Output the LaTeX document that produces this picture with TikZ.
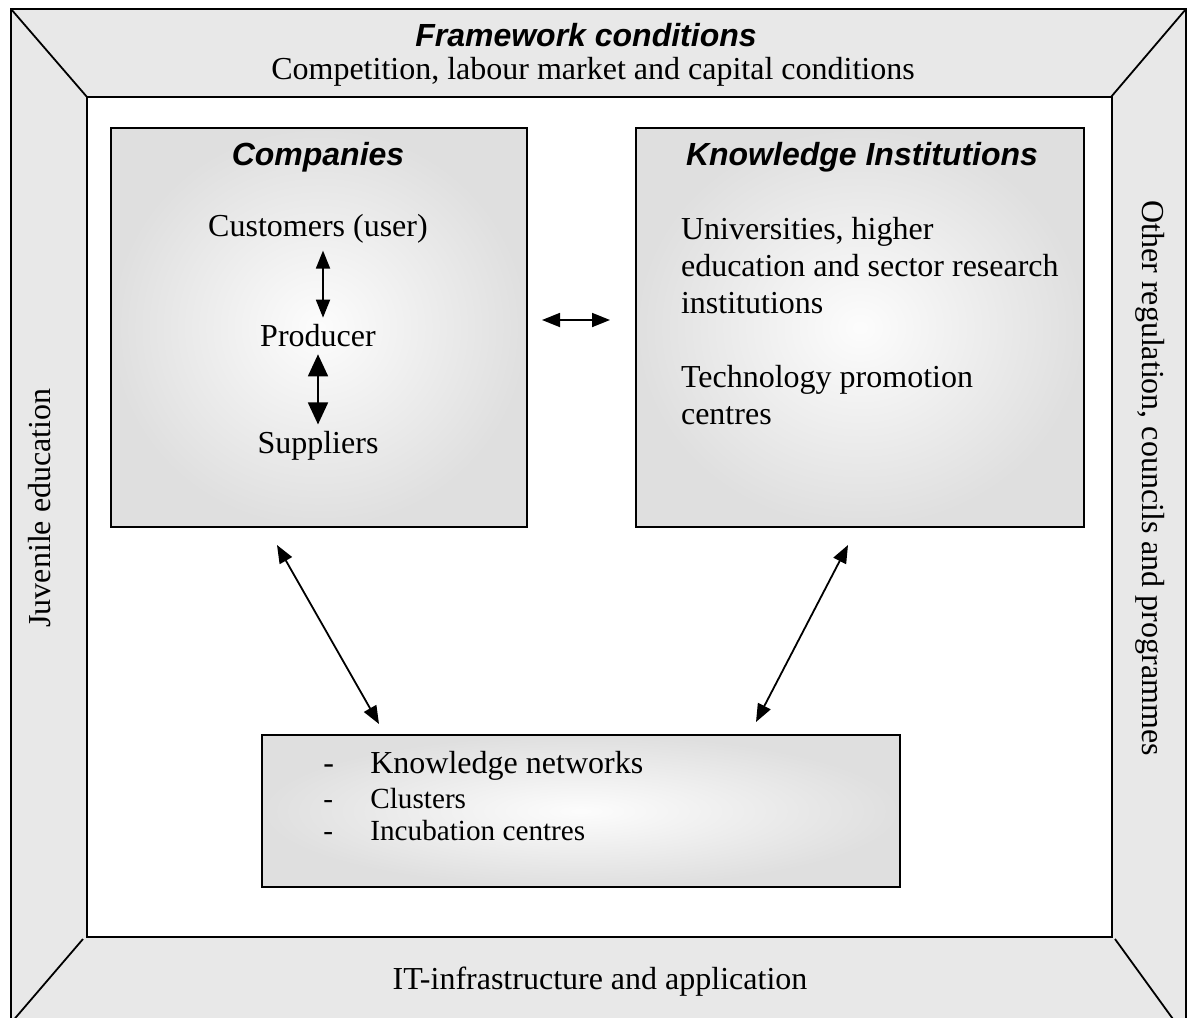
\documentclass[tikz,border=0pt]{standalone}
\usepackage{fontspec}
\setmainfont{Liberation Serif}
\newfontfamily\headfont{Liberation Sans}
\usetikzlibrary{arrows.meta}
\tikzset{
  panel/.style={draw,line width=1pt,inner color=gray!2,outer color=gray!25,anchor=north west},
  head/.style={font=\headfont\bfseries\itshape\fontsize{16}{19}\selectfont},
  body/.style={font=\fontsize{16}{18.5}\selectfont},
  small/.style={font=\fontsize{14.6}{17}\selectfont},
  link/.style={line width=0.9pt,{Triangle[width=7pt,length=9pt]}-{Triangle[width=7pt,length=9pt]}},
  biglink/.style={line width=0.9pt,{Triangle[width=10pt,length=11pt]}-{Triangle[width=10pt,length=11pt]}},
}
\begin{document}
\begin{tikzpicture}[x=0.5pt,y=-0.5pt]
  \useasboundingbox (0,0) rectangle (1188,1017);
  \clip (0,0) rectangle (1188,1017);
  % outer frame
  \fill[gray!18] (11,9) rectangle (1186,1045);
  \draw[line width=0.9pt] (11,1045) -- (11,9) -- (1186,9) -- (1186,1045);
  \draw[line width=0.9pt] (11,9) -- (87,97) (1186,9) -- (1111,97)
    (83,939) -- (11,1023) (1115,939) -- (1186,1037);
  \draw[fill=white,line width=1pt] (87,97) rectangle (1112,937);
  \node[head] (frame) at (586,35) {Framework conditions};
  \node[body] (comp0) at (593,72) {Competition, labour market and capital conditions};
  \node[body,rotate=90] (juv) at (40,508) {Juvenile education};
  \node[body,rotate=-90] (reg) at (1150,478) {Other regulation, councils and programmes};
  \node[body] (infra) at (600,982) {IT-infrastructure and application};

  % boxes
  \node[panel,minimum width=208pt,minimum height=199.5pt] (comp) at (110,127) {};
  \node[panel,minimum width=224pt,minimum height=199.5pt] (kno) at (635,127) {};
  \node[panel,minimum width=319pt,minimum height=76pt] (net) at (261,734) {};

  % companies
  \node[head] (comptitle) at (318,157) {Companies};
  \node[body] (cust) at (318,229) {Customers (user)};
  \node[body] (prod) at (318,336) {Producer};
  \node[body] (supp) at (318,446) {Suppliers};
  \draw[link] ([xshift=2.5pt]cust.south) -- ([xshift=2.5pt]prod.north);
  \draw[biglink] (prod) -- (supp);

  % knowledge institutions
  \node[head] (knotitle) at (862,157) {Knowledge Institutions};
  \node[body,anchor=west,align=left] (univ) at (674,266) {Universities, higher\\education and sector research\\institutions};
  \node[body,anchor=west,align=left] (tech) at (674,395) {Technology promotion\\centres};

  % networks
  \node[body,anchor=base west,inner sep=0] (netA) at (323,773) {\makebox[23.5pt][l]{-}Knowledge networks};
  \node[small,anchor=base west,inner sep=0] (netB) at (323,808) {\makebox[23.5pt][l]{-}Clusters};
  \node[small,anchor=base west,inner sep=0] (netC) at (323,840) {\makebox[23.5pt][l]{-}Incubation centres};

  % links between boxes
  \draw[link] ([shift={(14,-7.5)}]comp.east) -- ([shift={(-25,-7.5)}]kno.west);
  \draw[link] ([shift={(167,17)}]comp.south west) -- ([shift={(118,-10)}]net.north west);
  \draw[link] ([shift={(213,17)}]kno.south west) -- ([shift={(495,-12)}]net.north west);
\end{tikzpicture}
\end{document}
